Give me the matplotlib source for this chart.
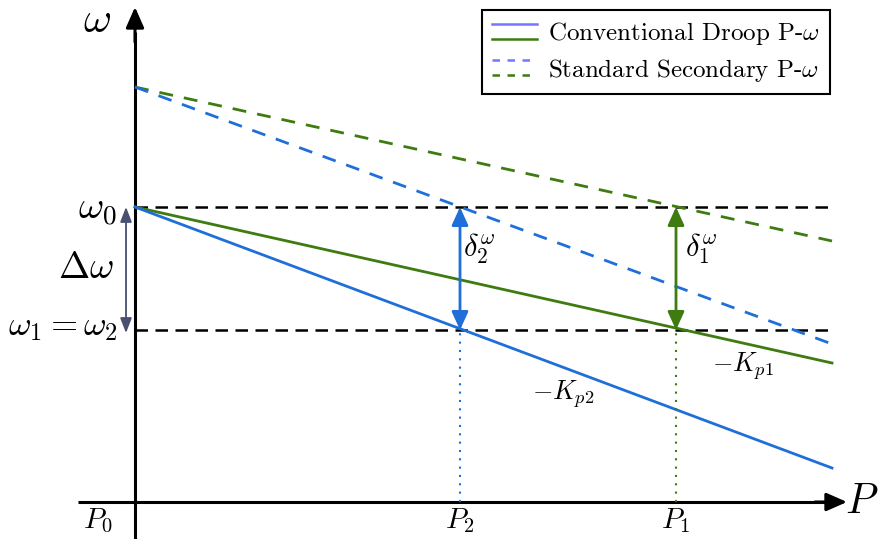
""" Droop characteristic P-omega: conventional droop vs standard secondary control """

import matplotlib
matplotlib.use('Agg')
import matplotlib.pyplot as plt
from matplotlib.lines import Line2D
from matplotlib.legend_handler import HandlerBase

plt.rcParams['mathtext.fontset'] = 'cm'
plt.rcParams['font.family'] = ['cmr10', 'DejaVu Serif']
plt.rcParams['axes.unicode_minus'] = False

# Values (arbitrary units)
p_0, p_2, p_1, p_end = 0.0, 3.25, 5.41, 6.97
omega_0, omega_1, omega_sec = 2.95, 1.72, 4.15
p_line = [p_0, p_end]
droop_1 = [omega_0, 1.39]      # -K_p1, green
droop_2 = [omega_0, 0.34]      # -K_p2, blue
secondary_1 = [omega_sec, 2.61]
secondary_2 = [omega_sec, 1.58]
tick_pos = [p_0, p_2, p_1]
tick_labels = [r'$P_0$', r'$P_2$', r'$P_1$']

blue = '#1f6fd8'
green = '#3e7b10'
legend_blue = '#7378ff'


class HandlerStacked(HandlerBase):
    # two short lines stacked on top of each other in one legend entry
    def create_artists(self, legend, orig_handle, xdescent, ydescent,
                       width, height, fontsize, trans):
        yc = height / 2 - ydescent
        out = []
        for line, dy in zip(orig_handle, [0.3 * fontsize, -0.3 * fontsize]):
            l = Line2D([-xdescent, -xdescent + width], [yc + dy, yc + dy])
            l.update_from(line)
            l.set_transform(trans)
            out.append(l)
        return out


fig = plt.figure(figsize=(8.83, 5.39), dpi=100)
ax = fig.add_axes([0, 0, 1, 1])
ax.set_xlim(-1.35, 7.48)
ax.set_ylim(-0.37, 5.02)
ax.axis('off')

# axes with arrows
ax.plot([-0.57, 6.9], [0, 0], color='black', lw=2.2, solid_capstyle='butt')
ax.plot([0, 0], [-0.40, 4.7], color='black', lw=2.2, solid_capstyle='butt')
axis_arrow = '-|>,head_length=1.25,head_width=0.55'
ax.annotate('', xy=(7.12, 0), xytext=(6.8, 0),
            arrowprops=dict(arrowstyle=axis_arrow, color='black', lw=2.2,
                            shrinkA=0, shrinkB=0))
ax.annotate('', xy=(0, 4.95), xytext=(0, 4.6),
            arrowprops=dict(arrowstyle=axis_arrow, color='black', lw=2.2,
                            shrinkA=0, shrinkB=0))

# reference levels
ax.plot(p_line, [omega_0, omega_0], color='black', lw=1.8, dashes=(5, 3))
ax.plot(p_line, [omega_1, omega_1], color='black', lw=1.8, dashes=(5, 3))

# droop lines
ax.plot(p_line, secondary_1, color=green, lw=2.0, dashes=(5, 4))
ax.plot(p_line, secondary_2, color=blue, lw=2.0, dashes=(5, 4))
ax.plot(p_line, droop_1, color=green, lw=2.0)
ax.plot(p_line, droop_2, color=blue, lw=2.0)

# dotted drop lines to the P axis
ax.plot([p_2, p_2], [0, omega_1], color=blue, lw=1.5, linestyle=(0, (1, 3)))
ax.plot([p_1, p_1], [0, omega_1], color=green, lw=1.5, linestyle=(0, (1, 3)))

# delta arrows
arr = '<|-|>,head_length=1.1,head_width=0.5'
ax.annotate('', xy=(p_2, omega_0), xytext=(p_2, omega_1),
            arrowprops=dict(arrowstyle=arr, color=blue, lw=2.0,
                            shrinkA=0, shrinkB=0))
ax.annotate('', xy=(p_1, omega_0), xytext=(p_1, omega_1),
            arrowprops=dict(arrowstyle=arr, color=green, lw=2.0,
                            shrinkA=0, shrinkB=0))
ax.annotate('', xy=(-0.09, omega_0), xytext=(-0.09, omega_1 - 0.03),
            arrowprops=dict(arrowstyle='<|-|>,head_length=0.9,head_width=0.35',
                            color='#4a5070', lw=1.3, shrinkA=0, shrinkB=0))

# text
ax.text(-0.38, 4.81, r'$\omega$', fontsize=31, ha='center', va='center')
ax.text(7.27, 0.0, r'$P$', fontsize=30, ha='center', va='center')
ax.text(-0.38, omega_0 - 0.03, r'$\omega_0$', fontsize=28, ha='center', va='center')
ax.text(-0.49, 2.34, r'$\Delta\omega$', fontsize=27, ha='center', va='center')
ax.text(-0.17, omega_1 + 0.03, r'$\omega_1 = \omega_2$', fontsize=25, ha='right', va='center')
ax.text(p_2 + 0.19, 2.53, r'$\delta_2^\omega$', fontsize=22, ha='center', va='center')
ax.text(p_1 + 0.25, 2.53, r'$\delta_1^\omega$', fontsize=22, ha='center', va='center')
ax.text(4.28, 1.08, r'$-K_{p2}$', fontsize=19, ha='center', va='center')
ax.text(6.08, 1.36, r'$-K_{p1}$', fontsize=19, ha='center', va='center')
for p, lab in zip(tick_pos, tick_labels):
    x = p - 0.37 if p == p_0 else p
    ax.text(x, -0.19, lab, fontsize=21, ha='center', va='center')

# legend
h_droop = (Line2D([], [], color=legend_blue, lw=1.8), Line2D([], [], color=green, lw=1.8))
h_sec = (Line2D([], [], color=legend_blue, lw=1.8, dashes=(3, 3)),
         Line2D([], [], color=green, lw=1.8, dashes=(3, 3)))
leg = ax.legend([h_droop, h_sec],
                [r'Conventional Droop P-$\omega$', r'Standard Secondary P-$\omega$'],
                handler_map={tuple: HandlerStacked()},
                loc='upper right', bbox_to_anchor=(830 / 883, 1 - 10 / 539),
                borderaxespad=0, fontsize=18, handlelength=1.8, handletextpad=0.45,
                labelspacing=0.38, borderpad=0.4, fancybox=False, framealpha=1)
leg.get_frame().set_edgecolor('black')
leg.get_frame().set_linewidth(1.5)

fig.savefig('out.png', dpi=100)
